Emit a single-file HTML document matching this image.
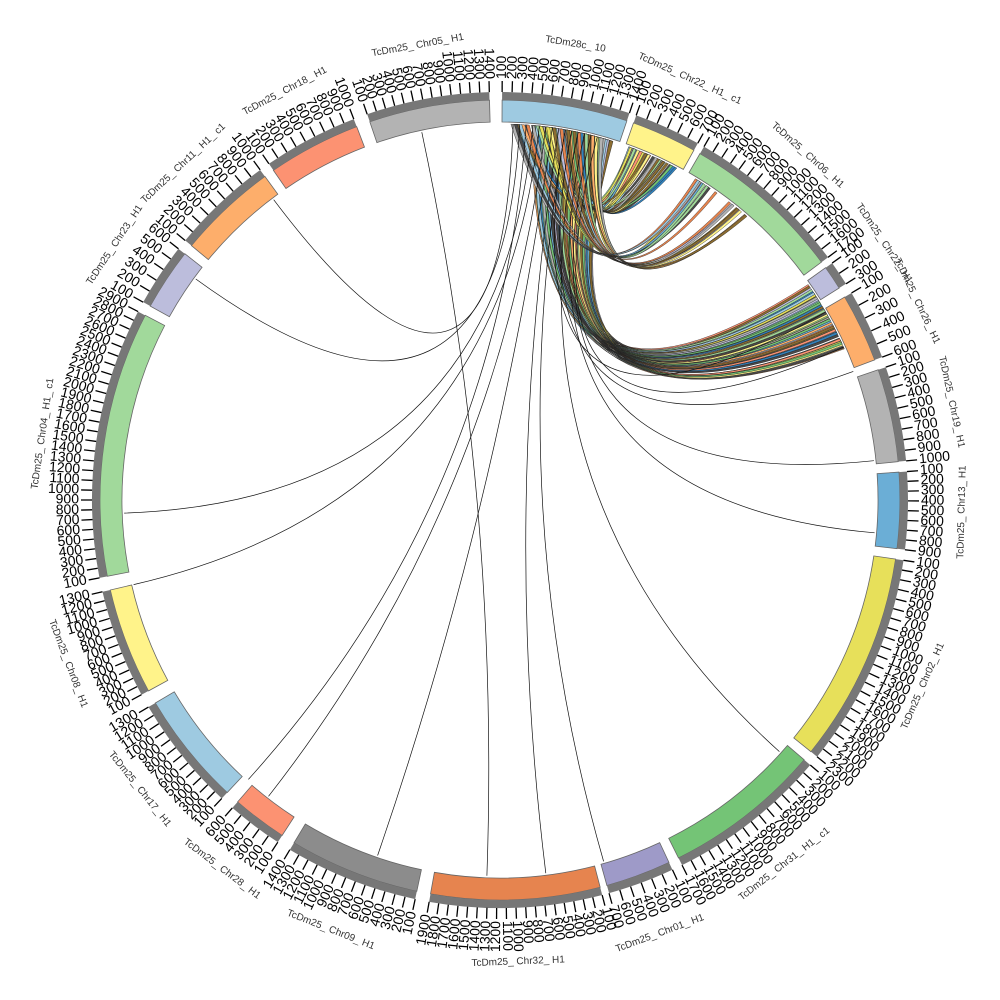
<!DOCTYPE html>
<html><head><meta charset="utf-8"><style>
html,body{margin:0;padding:0;background:#fff;width:1000px;height:1000px;overflow:hidden}
svg text{font-family:"Liberation Sans",sans-serif}
</style></head><body>
<svg id="s" width="1000" height="1000" xmlns="http://www.w3.org/2000/svg">
<g id="links"></g><g id="segs"></g><g id="lbl"></g>
<text x="0" y="-100">TcDm28c_10 TcDm25_Chr22_H1_c1 TcDm25_Chr06_H1 TcDm25_Chr22_H1 TcDm25_Chr26_H1 TcDm25_Chr19_H1 TcDm25_Chr13_H1 TcDm25_Chr02_H1 TcDm25_Chr31_H1_c1 TcDm25_Chr01_H1 TcDm25_Chr32_H1 TcDm25_Chr09_H1 TcDm25_Chr28_H1 TcDm25_Chr17_H1 TcDm25_Chr08_H1 TcDm25_Chr04_H1_c1 TcDm25_Chr23_H1 TcDm25_Chr11_H1_c1 TcDm25_Chr18_H1 TcDm25_Chr05_H1</text>
</svg>
<script>
var NS="http://www.w3.org/2000/svg";
function el(t,a,p){var e=document.createElementNS(NS,t);for(var k in a)e.setAttribute(k,a[k]);document.getElementById(p).appendChild(e);return e;}
function P(a,r){a=a*Math.PI/180;return [500+r*Math.sin(a),500-r*Math.cos(a)];}
function f(p){return p[0].toFixed(1)+","+p[1].toFixed(1);}
var segs=[
["TcDm28c_10",0.3,18.5,"#9ecae1",13],
["TcDm25_Chr22_H1_c1",19.5,29,"#fff38a",6],
["TcDm25_Chr06_H1",30,53.5,"#a1d99b",16],
["TcDm25_Chr22_H1",54.5,58,"#bcbddc",2],
["TcDm25_Chr26_H1",59.5,69.5,"#fdae6b",5],
["TcDm25_Chr19_H1",71,84.5,"#b3b3b3",9],
["TcDm25_Chr13_H1",86,97,"#6baed6",8],
["TcDm25_Chr02_H1",98.5,129,"#e7e05a",22],
["TcDm25_Chr31_H1_c1",130.5,153.5,"#74c476",16],
["TcDm25_Chr01_H1",155,164.5,"#9e9ac8",6],
["TcDm25_Chr32_H1",165.5,190,"#e6844f",18],
["TcDm25_Chr09_H1",192,211,"#8c8c8c",13],
["TcDm25_Chr28_H1",213,221,"#fc9272",5],
["TcDm25_Chr17_H1",223,239.5,"#9ecae1",12],
["TcDm25_Chr08_H1",241.5,257,"#fff38a",12],
["TcDm25_Chr04_H1_c1",259,297.5,"#a1d99b",28],
["TcDm25_Chr23_H1",299,308,"#bcbddc",5],
["TcDm25_Chr11_H1_c1",309.5,324,"#fdae6b",9],
["TcDm25_Chr18_H1",325.5,339,"#fc9272",9],
["TcDm25_Chr05_H1",341,358.5,"#b3b3b3",13]];
var seed=7;function rnd(){seed=(seed*16807)%2147483647;return seed/2147483647;}
var pal=["#a1d99b","#9ecae1","#fff38a","#fdae6b","#6baed6","#bcbddc","#e6844f","#74c476","#b3b3b3","#e7e05a","#8c6d31","#3182bd","#fc9272","#4a4a4a"];
function ribbon(a1,w1,a2,w2,c,ctr){
 var R=376,C=P(ctr[0],ctr[1]);
 var d="M"+f(P(a1,R))+"A"+R+","+R+" 0 0,1 "+f(P(a1+w1,R))+"Q"+f(C)+" "+f(P(a2+w2,R))+"A"+R+","+R+" 0 0,0 "+f(P(a2,R))+"Q"+f(C)+" "+f(P(a1,R))+"Z";
 el("path",{d:d,fill:c,stroke:"#222","stroke-width":0.4},"links");
}
for(var i=0;i<80;i++){var a1=5+rnd()*12.5,a2=55+rnd()*11;ribbon(a1,0.5,a2,0.35,pal[Math.floor(rnd()*pal.length)],[35,40]);}
for(var i=0;i<35;i++){var a1=0.5+rnd()*16,a2=20+rnd()*8;ribbon(a1,0.5,a2,0.4,pal[Math.floor(rnd()*pal.length)],[20,240]);}
for(var i=0;i<25;i++){var a1=1+rnd()*15,a2=31+rnd()*10;ribbon(a1,0.5,a2,0.4,pal[Math.floor(rnd()*pal.length)],[30,170]);}
var lines=[[8,199],[9,173],[10,164],[12,132],[13,95],[14,84],[5,268],[6,257],[4,222],[7,218],[11,70],[3,306],[2,323],[348,182],[15,66],[10,60]];
lines.forEach(function(l){el("path",{d:"M"+f(P(l[0],376))+"Q500,500 "+f(P(l[1],376)),fill:"none",stroke:"#111","stroke-width":0.7},"links");});
segs.forEach(function(s){
 var a1=s[1],a2=s[2];
 var d="M"+f(P(a1,378))+"A378,378 0 0,1 "+f(P(a2,378))+"L"+f(P(a2,400))+"A400,400 0 0,0 "+f(P(a1,400))+"Z";
 el("path",{d:d,fill:s[3],stroke:"#666","stroke-width":0.8},"segs");
 el("path",{d:"M"+f(P(a1,404))+"A404,404 0 0,1 "+f(P(a2,404)),fill:"none",stroke:"#777","stroke-width":8},"segs");
 var n=s[4],step=(a2-a1)/n;
 for(var k=0;k<=n;k++){var a=a1+k*step;var p1=P(a,408),p2=P(a,419);
  el("line",{x1:p1[0],y1:p1[1],x2:p2[0],y2:p2[1],stroke:"#000","stroke-width":1.3},"segs");
  var v=((k+1)*100)+"";var q=P(a,421);var t;
  var norm=((a%360)+360)%360;
  if(norm<180){t=el("text",{x:q[0],y:q[1],"font-size":14,"text-anchor":"start","dominant-baseline":"middle",transform:"rotate("+(norm-90)+" "+q[0]+" "+q[1]+")"},"lbl");}
  else{t=el("text",{x:q[0],y:q[1],"font-size":14,"text-anchor":"end","dominant-baseline":"middle",transform:"rotate("+(norm+90)+" "+q[0]+" "+q[1]+")"},"lbl");}
  t.textContent=v;}
 var m=(a1+a2)/2,q=P(m,462),rot=(m>90&&m<270)?m+180:m;
 var t=el("text",{x:q[0],y:q[1],"font-size":10,fill:"#333","text-anchor":"middle","dominant-baseline":"middle",transform:"rotate("+rot+" "+q[0]+" "+q[1]+")"},"lbl");
 t.textContent=s[0].replace("_Chr","_ Chr").replace(/_H1/,"_ H1").replace("_c1","_ c1").replace("_10","_ 10");
});
</script>
</body></html>
